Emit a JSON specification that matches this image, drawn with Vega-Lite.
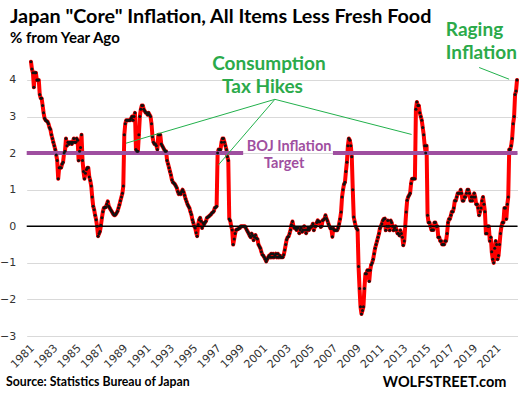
{
  "$schema": "https://vega.github.io/schema/vega-lite/v6.json",
  "autosize": {"type": "none"},
  "padding": {"left": 26.7, "top": 58, "right": 3.5, "bottom": 60},
  "width": 490.8,
  "height": 278,
  "background": "white",
  "config": {
    "view": {"stroke": null}
  },
  "resolve": {"axis": {"x": "independent", "y": "independent"}},
  "datasets": {
    "one": [{}],
    "cpi": [
      {"d":"1981-04","v":4.5},{"d":"1981-05","v":4.3},{"d":"1981-06","v":4.2},{"d":"1981-07","v":3.8},{"d":"1981-08","v":4.2},{"d":"1981-09","v":4.2},{"d":"1981-10","v":4.0},{"d":"1981-11","v":4.0},{"d":"1981-12","v":4.0},
      {"d":"1982-01","v":3.6},{"d":"1982-02","v":3.5},{"d":"1982-03","v":3.5},{"d":"1982-04","v":3.3},{"d":"1982-05","v":3.1},{"d":"1982-06","v":2.95},{"d":"1982-07","v":2.9},{"d":"1982-08","v":2.88},{"d":"1982-09","v":2.86},{"d":"1982-10","v":2.8},{"d":"1982-11","v":2.7},{"d":"1982-12","v":2.65},
      {"d":"1983-01","v":2.5},{"d":"1983-02","v":2.4},{"d":"1983-03","v":2.3},{"d":"1983-04","v":2.2},{"d":"1983-05","v":2.1},{"d":"1983-06","v":1.95},{"d":"1983-07","v":1.8},{"d":"1983-08","v":1.3},{"d":"1983-09","v":1.6},{"d":"1983-10","v":1.6},{"d":"1983-11","v":1.6},{"d":"1983-12","v":1.7},
      {"d":"1984-01","v":1.75},{"d":"1984-02","v":2.0},{"d":"1984-03","v":2.05},{"d":"1984-04","v":2.4},{"d":"1984-05","v":2.2},{"d":"1984-06","v":2.3},{"d":"1984-07","v":2.25},{"d":"1984-08","v":2.3},{"d":"1984-09","v":2.3},{"d":"1984-10","v":2.25},{"d":"1984-11","v":2.3},{"d":"1984-12","v":2.4},
      {"d":"1985-01","v":2.3},{"d":"1985-02","v":2.3},{"d":"1985-03","v":2.4},{"d":"1985-04","v":2.35},{"d":"1985-05","v":1.8},{"d":"1985-06","v":2.05},{"d":"1985-07","v":2.15},{"d":"1985-08","v":2.5},{"d":"1985-09","v":1.8},{"d":"1985-10","v":1.5},{"d":"1985-11","v":1.3},{"d":"1985-12","v":1.45},
      {"d":"1986-01","v":1.55},{"d":"1986-02","v":1.6},{"d":"1986-03","v":1.6},{"d":"1986-04","v":1.35},{"d":"1986-05","v":1.25},{"d":"1986-06","v":1.1},{"d":"1986-07","v":0.8},{"d":"1986-08","v":0.55},{"d":"1986-09","v":0.45},{"d":"1986-10","v":0.3},{"d":"1986-11","v":0.18},{"d":"1986-12","v":0.0},
      {"d":"1987-01","v":-0.27},{"d":"1987-02","v":-0.2},{"d":"1987-03","v":-0.14},{"d":"1987-04","v":0.03},{"d":"1987-05","v":0.23},{"d":"1987-06","v":0.4},{"d":"1987-07","v":0.5},{"d":"1987-08","v":0.52},{"d":"1987-09","v":0.52},{"d":"1987-10","v":0.6},{"d":"1987-11","v":0.68},{"d":"1987-12","v":0.55},
      {"d":"1988-01","v":0.5},{"d":"1988-02","v":0.45},{"d":"1988-03","v":0.41},{"d":"1988-04","v":0.36},{"d":"1988-05","v":0.32},{"d":"1988-06","v":0.3},{"d":"1988-07","v":0.32},{"d":"1988-08","v":0.36},{"d":"1988-09","v":0.41},{"d":"1988-10","v":0.5},{"d":"1988-11","v":0.59},{"d":"1988-12","v":0.7},
      {"d":"1989-01","v":0.8},{"d":"1989-02","v":0.9},{"d":"1989-03","v":1.1},{"d":"1989-04","v":2.5},{"d":"1989-05","v":2.8},{"d":"1989-06","v":2.9},{"d":"1989-07","v":2.9},{"d":"1989-08","v":2.9},{"d":"1989-09","v":2.9},{"d":"1989-10","v":2.9},{"d":"1989-11","v":2.95},{"d":"1989-12","v":3.0},
      {"d":"1990-01","v":2.9},{"d":"1990-02","v":3.0},{"d":"1990-03","v":3.1},{"d":"1990-04","v":2.1},{"d":"1990-05","v":2.05},{"d":"1990-06","v":2.05},{"d":"1990-07","v":2.5},{"d":"1990-08","v":3.0},{"d":"1990-09","v":3.2},{"d":"1990-10","v":3.3},{"d":"1990-11","v":3.3},{"d":"1990-12","v":3.2},
      {"d":"1991-01","v":3.15},{"d":"1991-02","v":3.1},{"d":"1991-03","v":3.1},{"d":"1991-04","v":3.05},{"d":"1991-05","v":3.1},{"d":"1991-06","v":3.05},{"d":"1991-07","v":3.0},{"d":"1991-08","v":2.8},{"d":"1991-09","v":2.45},{"d":"1991-10","v":2.3},{"d":"1991-11","v":2.25},{"d":"1991-12","v":2.25},
      {"d":"1992-01","v":2.2},{"d":"1992-02","v":2.1},{"d":"1992-03","v":2.5},{"d":"1992-04","v":2.5},{"d":"1992-05","v":2.5},{"d":"1992-06","v":2.25},{"d":"1992-07","v":2.2},{"d":"1992-08","v":2.15},{"d":"1992-09","v":2.1},{"d":"1992-10","v":2.05},{"d":"1992-11","v":2.05},{"d":"1992-12","v":1.8},
      {"d":"1993-01","v":1.7},{"d":"1993-02","v":1.6},{"d":"1993-03","v":1.5},{"d":"1993-04","v":1.4},{"d":"1993-05","v":1.27},{"d":"1993-06","v":1.2},{"d":"1993-07","v":1.18},{"d":"1993-08","v":1.15},{"d":"1993-09","v":1.1},{"d":"1993-10","v":1.05},{"d":"1993-11","v":0.95},{"d":"1993-12","v":0.88},
      {"d":"1994-01","v":0.9},{"d":"1994-02","v":0.88},{"d":"1994-03","v":0.95},{"d":"1994-04","v":1.0},{"d":"1994-05","v":0.94},{"d":"1994-06","v":0.85},{"d":"1994-07","v":0.75},{"d":"1994-08","v":0.68},{"d":"1994-09","v":0.6},{"d":"1994-10","v":0.55},{"d":"1994-11","v":0.5},{"d":"1994-12","v":0.4},
      {"d":"1995-01","v":0.32},{"d":"1995-02","v":0.18},{"d":"1995-03","v":0.1},{"d":"1995-04","v":0.0},{"d":"1995-05","v":-0.05},{"d":"1995-06","v":-0.18},{"d":"1995-07","v":-0.27},{"d":"1995-08","v":0.05},{"d":"1995-09","v":0.18},{"d":"1995-10","v":0.23},{"d":"1995-11","v":0.14},{"d":"1995-12","v":-0.05},
      {"d":"1996-01","v":0.09},{"d":"1996-02","v":0.05},{"d":"1996-03","v":0.1},{"d":"1996-04","v":0.14},{"d":"1996-05","v":0.23},{"d":"1996-06","v":0.25},{"d":"1996-07","v":0.27},{"d":"1996-08","v":0.3},{"d":"1996-09","v":0.32},{"d":"1996-10","v":0.36},{"d":"1996-11","v":0.38},{"d":"1996-12","v":0.41},
      {"d":"1997-01","v":0.5},{"d":"1997-02","v":0.52},{"d":"1997-03","v":0.55},{"d":"1997-04","v":2.0},{"d":"1997-05","v":2.1},{"d":"1997-06","v":2.1},{"d":"1997-07","v":2.1},{"d":"1997-08","v":2.3},{"d":"1997-09","v":2.4},{"d":"1997-10","v":2.4},{"d":"1997-11","v":2.3},{"d":"1997-12","v":2.2},
      {"d":"1998-01","v":2.1},{"d":"1998-02","v":1.9},{"d":"1998-03","v":1.8},{"d":"1998-04","v":0.2},{"d":"1998-05","v":0.15},{"d":"1998-06","v":0.0},{"d":"1998-07","v":-0.1},{"d":"1998-08","v":-0.5},{"d":"1998-09","v":-0.35},{"d":"1998-10","v":-0.2},{"d":"1998-11","v":-0.1},{"d":"1998-12","v":-0.08},
      {"d":"1999-01","v":-0.08},{"d":"1999-02","v":-0.05},{"d":"1999-03","v":-0.05},{"d":"1999-04","v":0.0},{"d":"1999-05","v":0.0},{"d":"1999-06","v":0.0},{"d":"1999-07","v":0.0},{"d":"1999-08","v":0.0},{"d":"1999-09","v":-0.05},{"d":"1999-10","v":-0.1},{"d":"1999-11","v":-0.15},{"d":"1999-12","v":-0.2},
      {"d":"2000-01","v":-0.26},{"d":"2000-02","v":-0.3},{"d":"2000-03","v":-0.2},{"d":"2000-04","v":-0.25},{"d":"2000-05","v":-0.38},{"d":"2000-06","v":-0.3},{"d":"2000-07","v":-0.24},{"d":"2000-08","v":-0.33},{"d":"2000-09","v":-0.35},{"d":"2000-10","v":-0.5},{"d":"2000-11","v":-0.55},{"d":"2000-12","v":-0.6},
      {"d":"2001-01","v":-0.7},{"d":"2001-02","v":-0.78},{"d":"2001-03","v":-0.8},{"d":"2001-04","v":-0.85},{"d":"2001-05","v":-0.9},{"d":"2001-06","v":-0.96},{"d":"2001-07","v":-0.9},{"d":"2001-08","v":-0.85},{"d":"2001-09","v":-0.8},{"d":"2001-10","v":-0.85},{"d":"2001-11","v":-0.75},{"d":"2001-12","v":-0.85},
      {"d":"2002-01","v":-0.75},{"d":"2002-02","v":-0.85},{"d":"2002-03","v":-0.8},{"d":"2002-04","v":-0.75},{"d":"2002-05","v":-0.85},{"d":"2002-06","v":-0.75},{"d":"2002-07","v":-0.85},{"d":"2002-08","v":-0.8},{"d":"2002-09","v":-0.85},{"d":"2002-10","v":-0.85},{"d":"2002-11","v":-0.85},{"d":"2002-12","v":-0.78},
      {"d":"2003-01","v":-0.65},{"d":"2003-02","v":-0.5},{"d":"2003-03","v":-0.37},{"d":"2003-04","v":-0.3},{"d":"2003-05","v":-0.28},{"d":"2003-06","v":-0.2},{"d":"2003-07","v":-0.1},{"d":"2003-08","v":0.04},{"d":"2003-09","v":0.13},{"d":"2003-10","v":0.0},{"d":"2003-11","v":-0.05},{"d":"2003-12","v":-0.05},
      {"d":"2004-01","v":-0.1},{"d":"2004-02","v":-0.05},{"d":"2004-03","v":-0.05},{"d":"2004-04","v":-0.19},{"d":"2004-05","v":-0.1},{"d":"2004-06","v":-0.05},{"d":"2004-07","v":-0.15},{"d":"2004-08","v":-0.1},{"d":"2004-09","v":0.0},{"d":"2004-10","v":-0.1},{"d":"2004-11","v":-0.19},{"d":"2004-12","v":-0.1},
      {"d":"2005-01","v":-0.05},{"d":"2005-02","v":-0.1},{"d":"2005-03","v":-0.05},{"d":"2005-04","v":-0.02},{"d":"2005-05","v":0.0},{"d":"2005-06","v":0.07},{"d":"2005-07","v":-0.11},{"d":"2005-08","v":0.0},{"d":"2005-09","v":0.0},{"d":"2005-10","v":0.1},{"d":"2005-11","v":0.16},{"d":"2005-12","v":0.12},
      {"d":"2006-01","v":0.12},{"d":"2006-02","v":-0.02},{"d":"2006-03","v":0.0},{"d":"2006-04","v":0.16},{"d":"2006-05","v":0.18},{"d":"2006-06","v":0.21},{"d":"2006-07","v":0.3},{"d":"2006-08","v":0.21},{"d":"2006-09","v":0.15},{"d":"2006-10","v":0.07},{"d":"2006-11","v":0.0},{"d":"2006-12","v":-0.06},
      {"d":"2007-01","v":-0.06},{"d":"2007-02","v":-0.29},{"d":"2007-03","v":-0.06},{"d":"2007-04","v":-0.11},{"d":"2007-05","v":-0.11},{"d":"2007-06","v":-0.11},{"d":"2007-07","v":-0.11},{"d":"2007-08","v":-0.05},{"d":"2007-09","v":0.07},{"d":"2007-10","v":0.2},{"d":"2007-11","v":0.39},{"d":"2007-12","v":0.8},
      {"d":"2008-01","v":1.0},{"d":"2008-02","v":1.15},{"d":"2008-03","v":1.2},{"d":"2008-04","v":1.5},{"d":"2008-05","v":1.75},{"d":"2008-06","v":2.2},{"d":"2008-07","v":2.4},{"d":"2008-08","v":2.35},{"d":"2008-09","v":2.2},{"d":"2008-10","v":1.9},{"d":"2008-11","v":1.0},{"d":"2008-12","v":0.25},
      {"d":"2009-01","v":0.12},{"d":"2009-02","v":0.0},{"d":"2009-03","v":-0.06},{"d":"2009-04","v":-0.1},{"d":"2009-05","v":-1.1},{"d":"2009-06","v":-1.7},{"d":"2009-07","v":-2.2},{"d":"2009-08","v":-2.4},{"d":"2009-09","v":-2.3},{"d":"2009-10","v":-2.2},{"d":"2009-11","v":-1.7},{"d":"2009-12","v":-1.3},
      {"d":"2010-01","v":-1.3},{"d":"2010-02","v":-1.2},{"d":"2010-03","v":-1.2},{"d":"2010-04","v":-1.5},{"d":"2010-05","v":-1.2},{"d":"2010-06","v":-1.05},{"d":"2010-07","v":-1.0},{"d":"2010-08","v":-0.9},{"d":"2010-09","v":-0.75},{"d":"2010-10","v":-0.6},{"d":"2010-11","v":-0.5},{"d":"2010-12","v":-0.4},
      {"d":"2011-01","v":-0.3},{"d":"2011-02","v":-0.2},{"d":"2011-03","v":-0.06},{"d":"2011-04","v":0.0},{"d":"2011-05","v":0.07},{"d":"2011-06","v":0.16},{"d":"2011-07","v":0.2},{"d":"2011-08","v":0.21},{"d":"2011-09","v":-0.11},{"d":"2011-10","v":0.0},{"d":"2011-11","v":0.16},{"d":"2011-12","v":0.0},
      {"d":"2012-01","v":-0.11},{"d":"2012-02","v":0.16},{"d":"2012-03","v":0.1},{"d":"2012-04","v":0.0},{"d":"2012-05","v":-0.11},{"d":"2012-06","v":-0.05},{"d":"2012-07","v":0.0},{"d":"2012-08","v":-0.1},{"d":"2012-09","v":-0.2},{"d":"2012-10","v":-0.2},{"d":"2012-11","v":-0.25},{"d":"2012-12","v":-0.11},
      {"d":"2013-01","v":-0.2},{"d":"2013-02","v":-0.3},{"d":"2013-03","v":-0.52},{"d":"2013-04","v":-0.4},{"d":"2013-05","v":0.0},{"d":"2013-06","v":0.39},{"d":"2013-07","v":0.71},{"d":"2013-08","v":0.8},{"d":"2013-09","v":0.85},{"d":"2013-10","v":0.9},{"d":"2013-11","v":1.17},{"d":"2013-12","v":1.3},
      {"d":"2014-01","v":1.3},{"d":"2014-02","v":1.3},{"d":"2014-03","v":1.3},{"d":"2014-04","v":3.2},{"d":"2014-05","v":3.4},{"d":"2014-06","v":3.3},{"d":"2014-07","v":3.3},{"d":"2014-08","v":3.1},{"d":"2014-09","v":3.0},{"d":"2014-10","v":2.9},{"d":"2014-11","v":2.7},{"d":"2014-12","v":2.5},
      {"d":"2015-01","v":2.2},{"d":"2015-02","v":2.0},{"d":"2015-03","v":2.2},{"d":"2015-04","v":0.3},{"d":"2015-05","v":0.1},{"d":"2015-06","v":0.1},{"d":"2015-07","v":0.0},{"d":"2015-08","v":-0.1},{"d":"2015-09","v":-0.1},{"d":"2015-10","v":-0.1},{"d":"2015-11","v":0.1},{"d":"2015-12","v":0.1},
      {"d":"2016-01","v":0.0},{"d":"2016-02","v":0.0},{"d":"2016-03","v":-0.3},{"d":"2016-04","v":-0.3},{"d":"2016-05","v":-0.4},{"d":"2016-06","v":-0.4},{"d":"2016-07","v":-0.5},{"d":"2016-08","v":-0.5},{"d":"2016-09","v":-0.5},{"d":"2016-10","v":-0.4},{"d":"2016-11","v":-0.4},{"d":"2016-12","v":-0.2},
      {"d":"2017-01","v":0.1},{"d":"2017-02","v":0.2},{"d":"2017-03","v":0.2},{"d":"2017-04","v":0.3},{"d":"2017-05","v":0.4},{"d":"2017-06","v":0.4},{"d":"2017-07","v":0.5},{"d":"2017-08","v":0.7},{"d":"2017-09","v":0.7},{"d":"2017-10","v":0.8},{"d":"2017-11","v":0.9},{"d":"2017-12","v":0.9},
      {"d":"2018-01","v":0.9},{"d":"2018-02","v":1.0},{"d":"2018-03","v":0.9},{"d":"2018-04","v":0.7},{"d":"2018-05","v":0.7},{"d":"2018-06","v":0.8},{"d":"2018-07","v":0.8},{"d":"2018-08","v":0.9},{"d":"2018-09","v":1.0},{"d":"2018-10","v":1.0},{"d":"2018-11","v":0.9},{"d":"2018-12","v":0.7},
      {"d":"2019-01","v":0.8},{"d":"2019-02","v":0.7},{"d":"2019-03","v":0.8},{"d":"2019-04","v":0.9},{"d":"2019-05","v":0.8},{"d":"2019-06","v":0.6},{"d":"2019-07","v":0.6},{"d":"2019-08","v":0.5},{"d":"2019-09","v":0.3},{"d":"2019-10","v":0.4},{"d":"2019-11","v":0.5},{"d":"2019-12","v":0.7},
      {"d":"2020-01","v":0.8},{"d":"2020-02","v":0.6},{"d":"2020-03","v":0.4},{"d":"2020-04","v":-0.2},{"d":"2020-05","v":-0.2},{"d":"2020-06","v":0.0},{"d":"2020-07","v":0.0},{"d":"2020-08","v":-0.4},{"d":"2020-09","v":-0.3},{"d":"2020-10","v":-0.7},{"d":"2020-11","v":-0.9},{"d":"2020-12","v":-1.0},
      {"d":"2021-01","v":-0.6},{"d":"2021-02","v":-0.4},{"d":"2021-03","v":-0.5},{"d":"2021-04","v":-0.9},{"d":"2021-05","v":-0.8},{"d":"2021-06","v":-0.5},{"d":"2021-07","v":-0.2},{"d":"2021-08","v":0.0},{"d":"2021-09","v":0.1},{"d":"2021-10","v":0.1},{"d":"2021-11","v":0.5},{"d":"2021-12","v":0.5},
      {"d":"2022-01","v":0.2},{"d":"2022-02","v":0.6},{"d":"2022-03","v":0.8},{"d":"2022-04","v":2.1},{"d":"2022-05","v":2.1},{"d":"2022-06","v":2.2},{"d":"2022-07","v":2.4},{"d":"2022-08","v":2.8},{"d":"2022-09","v":3.0},{"d":"2022-10","v":3.6},{"d":"2022-11","v":3.7},{"d":"2022-12","v":4.0}
    ]
  },
  "layer": [
    {
      "data": {"name": "cpi"},
      "mark": {"type": "line", "color": "#ff0000", "strokeWidth": 4, "strokeJoin": "round", "strokeCap": "round"},
      "encoding": {
        "x": {
          "field": "d", "type": "temporal",
          "scale": {"type": "utc", "domain": [{"year": 1980, "month": 11, "date": 18, "utc": true}, {"year": 2022, "month": 12, "date": 16, "utc": true}]},
          "axis": {
            "title": null, "grid": false, "domain": false, "ticks": false,
            "values": [
              {"year": 1981, "month": 1, "date": 1, "utc": true}, {"year": 1983, "month": 1, "date": 1, "utc": true},
              {"year": 1985, "month": 1, "date": 1, "utc": true}, {"year": 1987, "month": 1, "date": 1, "utc": true},
              {"year": 1989, "month": 1, "date": 1, "utc": true}, {"year": 1991, "month": 1, "date": 1, "utc": true},
              {"year": 1993, "month": 1, "date": 1, "utc": true}, {"year": 1995, "month": 1, "date": 1, "utc": true},
              {"year": 1997, "month": 1, "date": 1, "utc": true}, {"year": 1999, "month": 1, "date": 1, "utc": true},
              {"year": 2001, "month": 1, "date": 1, "utc": true}, {"year": 2003, "month": 1, "date": 1, "utc": true},
              {"year": 2005, "month": 1, "date": 1, "utc": true}, {"year": 2007, "month": 1, "date": 1, "utc": true},
              {"year": 2009, "month": 1, "date": 1, "utc": true}, {"year": 2011, "month": 1, "date": 1, "utc": true},
              {"year": 2013, "month": 1, "date": 1, "utc": true}, {"year": 2015, "month": 1, "date": 1, "utc": true},
              {"year": 2017, "month": 1, "date": 1, "utc": true}, {"year": 2019, "month": 1, "date": 1, "utc": true},
              {"year": 2021, "month": 1, "date": 1, "utc": true}
            ],
            "labelExpr": "utcFormat(datum.value, '%Y')",
            "labelAngle": -45, "labelFont": "DejaVu Sans", "labelFontSize": 11, "labelColor": "#333333",
            "labelPadding": 6, "labelOverlap": false, "labelBound": false, "labelFlush": false
          }
        },
        "y": {
          "field": "v", "type": "quantitative",
          "scale": {"domain": [-3, 4.6], "nice": false, "zero": false},
          "axis": {
            "title": null, "values": [-3, -2, -1, 0, 1, 2, 3, 4], "grid": true, "gridColor": "#d9d9d9", "gridWidth": 1.2,
            "domain": false, "ticks": false, "labelFont": "DejaVu Sans", "labelFontSize": 11, "labelColor": "#333333",
            "labelPadding": 11, "labelFlush": false, "labelOverlap": false
          }
        }
      }
    },
    {
      "data": {"name": "one"},
      "mark": {"type": "rule", "color": "#000000", "strokeWidth": 1.5},
      "encoding": {"y": {"datum": 0, "axis": null}}
    },
    {
      "data": {"name": "one"},
      "mark": {"type": "rule", "color": "#9F4FA0", "strokeWidth": 4},
      "encoding": {
        "x": {"datum": {"year": 1980, "month": 11, "date": 18, "utc": true}, "type": "temporal", "axis": null},
        "x2": {"datum": {"year": 1999, "month": 6, "date": 10, "utc": true}},
        "y": {"datum": 2, "axis": null}
      }
    },
    {
      "data": {"name": "one"},
      "mark": {"type": "rule", "color": "#9F4FA0", "strokeWidth": 4},
      "encoding": {
        "x": {"datum": {"year": 2007, "month": 2, "date": 19, "utc": true}, "type": "temporal", "axis": null},
        "x2": {"datum": {"year": 2022, "month": 12, "date": 16, "utc": true}},
        "y": {"datum": 2, "axis": null}
      }
    },
    {
      "data": {"name": "cpi"},
      "mark": {"type": "point", "filled": true, "color": "#111111", "size": 9, "opacity": 1},
      "encoding": {
        "x": {"field": "d", "type": "temporal", "axis": null},
        "y": {"field": "v", "type": "quantitative", "axis": null}
      }
    },
    {
      "data": {"name": "one"},
      "mark": {"type": "rule", "color": "#22B14C", "strokeWidth": 1},
      "encoding": {
        "x": {"datum": {"year": 1989, "month": 5, "date": 22, "utc": true}, "type": "temporal", "axis": null},
        "x2": {"datum": {"year": 2002, "month": 2, "date": 27, "utc": true}},
        "y": {"datum": 2.27, "axis": null}, "y2": {"datum": 3.47}
      }
    },
    {
      "data": {"name": "one"},
      "mark": {"type": "rule", "color": "#22B14C", "strokeWidth": 1},
      "encoding": {
        "x": {"datum": {"year": 1997, "month": 4, "date": 19, "utc": true}, "type": "temporal", "axis": null},
        "x2": {"datum": {"year": 2002, "month": 2, "date": 27, "utc": true}},
        "y": {"datum": 1.67, "axis": null}, "y2": {"datum": 3.47}
      }
    },
    {
      "data": {"name": "one"},
      "mark": {"type": "rule", "color": "#22B14C", "strokeWidth": 1},
      "encoding": {
        "x": {"datum": {"year": 2002, "month": 2, "date": 27, "utc": true}, "type": "temporal", "axis": null},
        "x2": {"datum": {"year": 2013, "month": 11, "date": 16, "utc": true}},
        "y": {"datum": 3.47, "axis": null}, "y2": {"datum": 2.51}
      }
    },
    {
      "data": {"name": "one"},
      "mark": {"type": "rule", "color": "#22B14C", "strokeWidth": 1},
      "encoding": {
        "x": {"datum": {"year": 2019, "month": 9, "date": 2, "utc": true}, "type": "temporal", "axis": null},
        "x2": {"datum": {"year": 2022, "month": 3, "date": 28, "utc": true}},
        "y": {"datum": 4.34, "axis": null}, "y2": {"datum": 4.02}
      }
    },
    {
      "data": {"name": "one"},
      "mark": {"type": "text", "text": "Consumption", "font": "Lato", "fontWeight": "bold", "fontSize": 19, "color": "#2BAA4A", "align": "center", "baseline": "alphabetic"},
      "encoding": {"x": {"datum": {"year": 2001, "month": 8, "date": 25, "utc": true}, "type": "temporal", "axis": null}, "y": {"datum": 4.27, "axis": null}}
    },
    {
      "data": {"name": "one"},
      "mark": {"type": "text", "text": "Tax Hikes", "font": "Lato", "fontWeight": "bold", "fontSize": 19, "color": "#2BAA4A", "align": "center", "baseline": "alphabetic"},
      "encoding": {"x": {"datum": {"year": 2001, "month": 2, "date": 4, "utc": true}, "type": "temporal", "axis": null}, "y": {"datum": 3.63, "axis": null}}
    },
    {
      "data": {"name": "one"},
      "mark": {"type": "text", "text": "Raging", "font": "Lato", "fontWeight": "bold", "fontSize": 19, "color": "#2BAA4A", "align": "left", "baseline": "alphabetic"},
      "encoding": {"x": {"datum": {"year": 2016, "month": 10, "date": 25, "utc": true}, "type": "temporal", "axis": null}, "y": {"datum": 5.2, "axis": null}}
    },
    {
      "data": {"name": "one"},
      "mark": {"type": "text", "text": "Inflation", "font": "Lato", "fontWeight": "bold", "fontSize": 19, "color": "#2BAA4A", "align": "left", "baseline": "alphabetic"},
      "encoding": {"x": {"datum": {"year": 2016, "month": 10, "date": 25, "utc": true}, "type": "temporal", "axis": null}, "y": {"datum": 4.56, "axis": null}}
    },
    {
      "data": {"name": "one"},
      "mark": {"type": "text", "text": "BOJ Inflation", "font": "Lato", "fontWeight": "bold", "fontSize": 14.5, "color": "#9F4FA0", "align": "center", "baseline": "alphabetic"},
      "encoding": {"x": {"datum": {"year": 2003, "month": 5, "date": 16, "utc": true}, "type": "temporal", "axis": null}, "y": {"datum": 2.05, "axis": null}}
    },
    {
      "data": {"name": "one"},
      "mark": {"type": "text", "text": "Target", "font": "Lato", "fontWeight": "bold", "fontSize": 14.5, "color": "#9F4FA0", "align": "center", "baseline": "alphabetic"},
      "encoding": {"x": {"datum": {"year": 2002, "month": 12, "date": 13, "utc": true}, "type": "temporal", "axis": null}, "y": {"datum": 1.6, "axis": null}}
    },
    {
      "data": {"name": "one"},
      "mark": {"type": "text", "text": "Japan \"Core\" Inflation, All Items Less Fresh Food", "font": "Lato", "fontWeight": "bold", "fontSize": 19.8, "color": "#000000", "align": "left", "baseline": "alphabetic"},
      "encoding": {"x": {"datum": {"year": 1979, "month": 6, "date": 13, "utc": true}, "type": "temporal", "axis": null}, "y": {"datum": 5.55, "axis": null}}
    },
    {
      "data": {"name": "one"},
      "mark": {"type": "text", "text": "% from Year Ago", "font": "Lato", "fontWeight": "bold", "fontSize": 15, "color": "#000000", "align": "left", "baseline": "alphabetic"},
      "encoding": {"x": {"datum": {"year": 1979, "month": 6, "date": 13, "utc": true}, "type": "temporal", "axis": null}, "y": {"datum": 5.0, "axis": null}}
    },
    {
      "data": {"name": "one"},
      "mark": {"type": "text", "text": "Source: Statistics Bureau of Japan", "font": "Lato", "fontWeight": "bold", "fontSize": 12.3, "color": "#000000", "align": "left", "baseline": "alphabetic"},
      "encoding": {"x": {"datum": {"year": 1979, "month": 2, "date": 10, "utc": true}, "type": "temporal", "axis": null}, "y": {"datum": -4.38, "axis": null}}
    },
    {
      "data": {"name": "one"},
      "mark": {"type": "text", "text": "WOLFSTREET.com", "font": "Lato", "fontWeight": "bold", "fontSize": 14.5, "color": "#000000", "align": "left", "baseline": "alphabetic"},
      "encoding": {"x": {"datum": {"year": 2011, "month": 6, "date": 1, "utc": true}, "type": "temporal", "axis": null}, "y": {"datum": -4.39, "axis": null}}
    }
  ]
}
